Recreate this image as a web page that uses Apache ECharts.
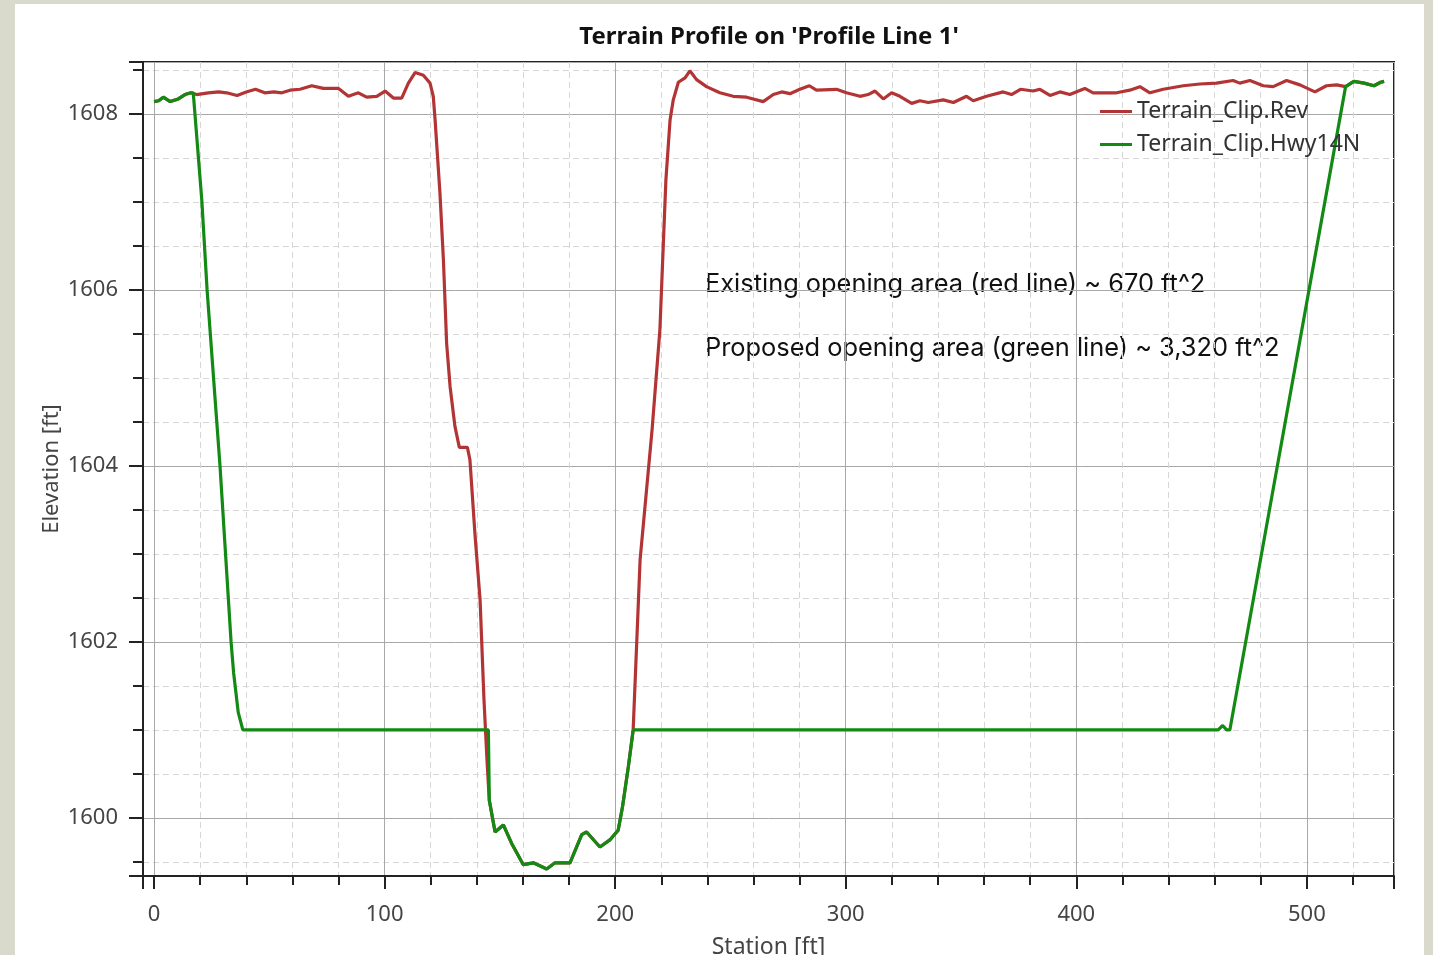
<!DOCTYPE html>
<html>
<head>
<meta charset="utf-8">
<script src="https://cdn.jsdelivr.net/npm/echarts@6/dist/echarts.min.js"></script>
<style>
  html, body { margin: 0; padding: 0; width: 1433px; height: 955px; background: #d9d9cc; overflow: hidden; }
  #chart { position: absolute; left: 15px; top: 4px; width: 1409px; height: 951px; background: #ffffff; }
</style>
</head>
<body>
<div id="chart"></div>
<script>
// ---- Data ----
const titleText = "Terrain Profile on 'Profile Line 1'";
const seriesNames = ['Terrain_Clip.Rev', 'Terrain_Clip.Hwy14N'];
const xAxisName = 'Station [ft]';
const yAxisName = 'Elevation [ft]';
const noteLines = [
  'Existing opening area (red line) ~ 670 ft^2',
  'Proposed opening area (green line) ~ 3,320 ft^2'
];

// Existing terrain (red)
const revStation = [0, 2, 4, 7, 10.5, 13.4, 16, 18.5, 23.5, 28, 31.5, 36, 40, 44, 48, 52, 55.4, 59, 63.3, 68.4, 73.4, 80, 84.3, 88.6, 92.2, 96.6, 100.2, 103.8, 107.4, 110.3, 113.2, 116.8, 119.7, 121.1, 121.9, 124, 125.5, 126.9, 128.4, 130.5, 132.4, 135.9, 137, 139.2, 141.4, 143.1, 144.4, 145.4, 147.9, 151.5, 155.1, 160.1, 164.5, 170.3, 173.9, 177.5, 180.4, 185.5, 187.6, 193.4, 197.7, 201.3, 203.2, 205.7, 207.8, 210.8, 216, 219.4, 222, 223.8, 225.2, 227.4, 230.3, 232.4, 235.3, 239.6, 245.4, 251.2, 257, 264.2, 268.6, 272.2, 275.8, 280.1, 284.2, 287.3, 296, 300.3, 306.2, 309.7, 312.7, 316.3, 319.9, 323.5, 328.6, 332.2, 335.8, 342.3, 346.7, 352.4, 355.3, 361.1, 368.3, 371.9, 375.8, 381.3, 384.2, 388.6, 392.9, 397.2, 403.7, 407.3, 417.5, 423.2, 427.6, 431.9, 437.7, 446.4, 453.6, 460.8, 468, 470.9, 475.3, 481.1, 485.4, 491.2, 497, 503.5, 508.5, 512.9, 516.8, 520.4, 524.8, 529.1, 532, 533.5];
const revElev = [1608.14, 1608.15, 1608.19, 1608.14, 1608.17, 1608.22, 1608.24, 1608.22, 1608.24, 1608.25, 1608.24, 1608.21, 1608.25, 1608.28, 1608.24, 1608.25, 1608.24, 1608.27, 1608.28, 1608.32, 1608.29, 1608.29, 1608.2, 1608.24, 1608.19, 1608.2, 1608.26, 1608.18, 1608.18, 1608.35, 1608.47, 1608.44, 1608.35, 1608.2, 1607.93, 1607.1, 1606.34, 1605.39, 1604.9, 1604.45, 1604.21, 1604.21, 1604.07, 1603.22, 1602.48, 1601.34, 1600.66, 1600.2, 1599.84, 1599.92, 1599.71, 1599.47, 1599.49, 1599.42, 1599.49, 1599.49, 1599.49, 1599.81, 1599.84, 1599.67, 1599.75, 1599.86, 1600.13, 1600.58, 1601.0, 1602.93, 1604.41, 1605.55, 1607.25, 1607.93, 1608.16, 1608.36, 1608.41, 1608.49, 1608.39, 1608.31, 1608.24, 1608.2, 1608.19, 1608.14, 1608.22, 1608.25, 1608.23, 1608.28, 1608.32, 1608.27, 1608.28, 1608.24, 1608.2, 1608.22, 1608.26, 1608.17, 1608.24, 1608.2, 1608.12, 1608.15, 1608.13, 1608.16, 1608.13, 1608.2, 1608.15, 1608.2, 1608.25, 1608.22, 1608.28, 1608.26, 1608.28, 1608.21, 1608.25, 1608.22, 1608.29, 1608.24, 1608.24, 1608.27, 1608.31, 1608.24, 1608.28, 1608.32, 1608.34, 1608.35, 1608.38, 1608.35, 1608.38, 1608.32, 1608.31, 1608.38, 1608.33, 1608.25, 1608.32, 1608.33, 1608.31, 1608.37, 1608.35, 1608.32, 1608.36, 1608.37];

// Proposed section (green)
const hwyStation = [0, 2, 4, 7, 10.5, 13.4, 16, 17, 20.7, 23, 28.6, 33.4, 34.5, 36.5, 38.5, 145, 145.4, 147.9, 151.5, 155.1, 160.1, 164.5, 170.3, 173.9, 177.5, 180.4, 185.5, 187.6, 193.4, 197.7, 201.3, 203.2, 205.7, 207.8, 461.5, 463.5, 465.2, 466.6, 516.8, 520.4, 524.8, 529.1, 532, 533.5];
const hwyElev = [1608.14, 1608.15, 1608.19, 1608.14, 1608.17, 1608.22, 1608.24, 1608.24, 1607.02, 1606.0, 1604.0, 1602.0, 1601.65, 1601.2, 1601.0, 1601.0, 1600.2, 1599.84, 1599.92, 1599.71, 1599.47, 1599.49, 1599.42, 1599.49, 1599.49, 1599.49, 1599.81, 1599.84, 1599.67, 1599.75, 1599.86, 1600.13, 1600.58, 1601.0, 1601.0, 1601.05, 1601.0, 1601.0, 1608.31, 1608.37, 1608.35, 1608.32, 1608.36, 1608.37];

const xRange = [-4.8, 537.8];
const yRange = [1599.34, 1608.59];
const xMajor = 100;
const yMajor = 2;

// ---- Build chart ----
const zip = (a, b) => a.map((v, i) => [v, b[i]]);
const chart = echarts.init(document.getElementById('chart'), null, { renderer: 'canvas' });
const baseFont = '"Noto Sans", "Open Sans", sans-serif';

const option = {
  backgroundColor: '#ffffff',
  animation: false,
  title: {
    text: titleText,
    left: 749,
    top: 16,
    textAlign: 'center',
    textStyle: { fontFamily: baseFont, fontWeight: 'bold', fontSize: 24, color: '#111' }
  },
  legend: {
    orient: 'vertical',
    left: 1080,
    top: 91,
    itemWidth: 32,
    itemHeight: 3,
    itemGap: 10,
    icon: 'rect',
    textStyle: { fontFamily: baseFont, fontSize: 23, color: '#333' },
    data: seriesNames
  },
  grid: {
    left: 128, right: 30, top: 58, bottom: 79,
    outerBoundsMode: 'none', containLabel: false,
    show: true, borderColor: '#222', borderWidth: 2, backgroundColor: 'transparent'
  },
  xAxis: {
    type: 'value',
    min: xRange[0], max: xRange[1],
    minInterval: xMajor, maxInterval: xMajor,
    name: xAxisName, nameLocation: 'middle', nameGap: 60, nameMoveOverlap: false,
    nameTextStyle: { fontFamily: baseFont, fontSize: 23, color: '#444' },
    axisLine: { show: true, onZero: false, lineStyle: { color: '#222', width: 2 } },
    axisTick: { show: true, inside: false, length: 13, lineStyle: { color: '#222', width: 2 } },
    minorTick: { show: true, splitNumber: 5, length: 9, lineStyle: { color: '#222', width: 2 } },
    axisLabel: {
      margin: 28, fontFamily: baseFont, fontSize: 22, color: '#444',
      formatter: v => (Math.abs(v % xMajor) < 1e-6 ? String(Math.round(v)) : '')
    },
    splitLine: { show: true, lineStyle: { color: '#a8a8a8', width: 1 } },
    minorSplitLine: { show: true, lineStyle: { color: '#d6d6d6', width: 1, type: [6, 4] } }
  },
  yAxis: {
    type: 'value',
    min: yRange[0], max: yRange[1],
    minInterval: yMajor, maxInterval: yMajor,
    name: yAxisName, nameLocation: 'middle', nameGap: 80, nameRotate: 90, nameMoveOverlap: false,
    nameTextStyle: { fontFamily: baseFont, fontSize: 22, color: '#444' },
    axisLine: { show: true, onZero: false, lineStyle: { color: '#222', width: 2 } },
    axisTick: { show: true, inside: false, length: 14, lineStyle: { color: '#222', width: 2 } },
    minorTick: { show: true, splitNumber: 4, length: 10, lineStyle: { color: '#222', width: 2 } },
    axisLabel: {
      margin: 25, fontFamily: baseFont, fontSize: 22, color: '#444',
      formatter: v => (Math.abs(Math.round(v) - v) < 1e-6 && Math.round(v) % yMajor === 0 ? String(Math.round(v)) : '')
    },
    splitLine: { show: true, lineStyle: { color: '#a8a8a8', width: 1 } },
    minorSplitLine: { show: true, lineStyle: { color: '#d6d6d6', width: 1, type: [6, 4] } }
  },
  graphic: [
    { type: 'text', x: 690, y: 280, style: { text: noteLines[0], font: '25.4px Inter, "Noto Sans", sans-serif', fill: '#111', verticalAlign: 'middle' } },
    { type: 'text', x: 690, y: 344, style: { text: noteLines[1], font: '25.4px Inter, "Noto Sans", sans-serif', fill: '#111', verticalAlign: 'middle' } }
  ],
  series: [
    {
      name: seriesNames[0], type: 'line', data: zip(revStation, revElev),
      showSymbol: false, symbol: 'none', smooth: false,
      lineStyle: { color: '#b33434', width: 3.2 }, itemStyle: { color: '#b33434' }, z: 2
    },
    {
      name: seriesNames[1], type: 'line', data: zip(hwyStation, hwyElev),
      showSymbol: false, symbol: 'none', smooth: false,
      lineStyle: { color: '#138a13', width: 3.2 }, itemStyle: { color: '#138a13' }, z: 3
    }
  ]
};
chart.setOption(option);
</script>
</body>
</html>
